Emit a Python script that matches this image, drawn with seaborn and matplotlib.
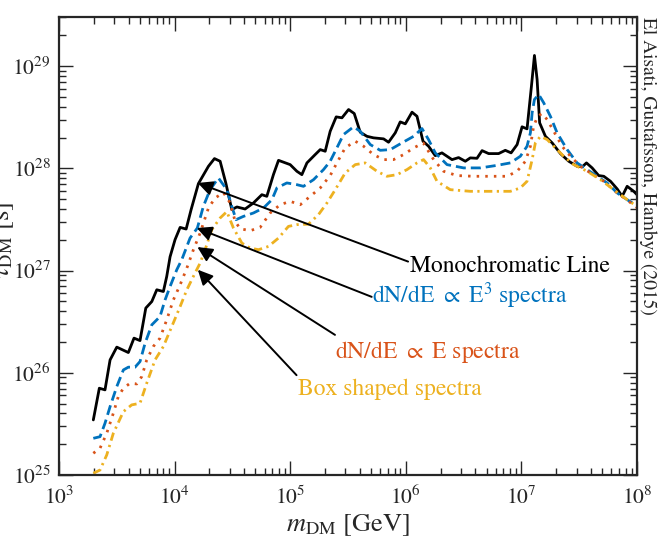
import numpy as np
import pandas as pd
import matplotlib
matplotlib.use("Agg")
import matplotlib.pyplot as plt
import seaborn as sns

# Lower bounds on the DM lifetime, stored as log10(m_DM / GeV) and log10(tau_DM / s)
mono_logm = [3.297, 3.349, 3.398, 3.442, 3.500, 3.600, 3.649, 3.701, 3.751, 3.803,
             3.846, 3.903, 3.932, 3.961, 4.004, 4.048, 4.100, 4.143, 4.206, 4.293,
             4.345, 4.394, 4.443, 4.495, 4.539, 4.610, 4.682, 4.755, 4.798, 4.855,
             4.899, 5.000, 5.058, 5.101, 5.145, 5.216, 5.260, 5.303, 5.346, 5.398,
             5.448, 5.505, 5.554, 5.606, 5.664, 5.721, 5.808, 5.851, 5.909, 5.952,
             5.996, 6.054, 6.097, 6.149, 6.197, 6.255, 6.313, 6.400, 6.457, 6.515,
             6.558, 6.616, 6.660, 6.717, 6.803, 6.861, 6.911, 6.963, 7.006, 7.049,
             7.087, 7.113, 7.136, 7.158, 7.208, 7.266, 7.338, 7.410, 7.482, 7.526,
             7.563, 7.612, 7.669, 7.713, 7.771, 7.829, 7.872, 7.915, 7.972, 8.000]
mono_logtau = [25.539, 25.849, 25.833, 26.126, 26.251, 26.198, 26.339, 26.315, 26.633, 26.697,
               26.812, 26.795, 26.942, 27.135, 27.302, 27.422, 27.406, 27.596, 27.850, 28.020,
               28.095, 28.069, 27.857, 27.596, 27.622, 27.602, 27.661, 27.742, 27.726, 27.938,
               28.078, 28.036, 27.971, 27.938, 28.053, 28.134, 28.183, 28.167, 28.362, 28.503,
               28.494, 28.575, 28.536, 28.353, 28.313, 28.298, 28.288, 28.255, 28.347, 28.454,
               28.435, 28.549, 28.509, 28.265, 28.216, 28.124, 28.151, 28.085, 28.105, 28.069,
               28.102, 28.098, 28.173, 28.144, 28.144, 28.176, 28.151, 28.232, 28.406, 28.386,
               28.803, 29.104, 28.869, 28.445, 28.313, 28.249, 28.144, 28.069, 28.020, 28.014,
               28.053, 28.004, 27.929, 27.922, 27.873, 27.798, 27.726, 27.824, 27.775, 27.742]

e3_logm = [3.297, 3.355, 3.398, 3.442, 3.500, 3.557, 3.600, 3.658, 3.701, 3.745,
           3.803, 3.874, 3.918, 3.961, 4.019, 4.062, 4.134, 4.197, 4.249, 4.307,
           4.379, 4.452, 4.495, 4.532, 4.596, 4.682, 4.769, 4.842, 4.885, 4.971,
           5.058, 5.115, 5.202, 5.288, 5.346, 5.404, 5.461, 5.548, 5.606, 5.693,
           5.779, 5.866, 5.967, 6.068, 6.140, 6.197, 6.255, 6.357, 6.500, 6.645,
           6.790, 6.905, 6.991, 7.049, 7.078, 7.093, 7.113, 7.150, 7.193, 7.251,
           7.309, 7.396, 7.482, 7.569, 7.655, 7.742, 7.829, 7.915, 8.000]
e3_logtau = [25.359, 25.375, 25.506, 25.669, 25.865, 26.028, 26.055, 26.055, 26.110, 26.290,
             26.469, 26.550, 26.714, 26.844, 27.008, 27.106, 27.318, 27.416, 27.628, 27.791,
             27.906, 27.791, 27.628, 27.498, 27.530, 27.563, 27.612, 27.693, 27.808, 27.857,
             27.840, 27.824, 27.889, 27.987, 28.069, 28.200, 28.330, 28.406, 28.362, 28.232,
             28.176, 28.183, 28.249, 28.313, 28.389, 28.281, 28.151, 28.036, 28.004, 28.004,
             28.029, 28.053, 28.118, 28.216, 28.347, 28.543, 28.673, 28.722, 28.641, 28.509,
             28.347, 28.183, 28.053, 27.987, 27.922, 27.857, 27.759, 27.693, 27.635]

e1_logm = [3.297, 3.355, 3.413, 3.470, 3.513, 3.557, 3.615, 3.673, 3.716, 3.759,
           3.816, 3.874, 3.932, 3.990, 4.048, 4.106, 4.163, 4.221, 4.293, 4.351,
           4.423, 4.481, 4.524, 4.567, 4.654, 4.740, 4.827, 4.913, 5.000, 5.087,
           5.173, 5.260, 5.346, 5.404, 5.476, 5.563, 5.635, 5.721, 5.808, 5.894,
           5.981, 6.068, 6.152, 6.241, 6.327, 6.443, 6.587, 6.760, 6.876, 6.963,
           7.035, 7.078, 7.106, 7.141, 7.179, 7.223, 7.280, 7.352, 7.424, 7.511,
           7.597, 7.713, 7.829, 7.929, 8.000]
e1_logtau = [25.213, 25.262, 25.408, 25.604, 25.767, 25.849, 25.898, 25.891, 25.963, 26.126,
             26.257, 26.339, 26.518, 26.714, 26.861, 27.024, 27.204, 27.367, 27.612, 27.710,
             27.762, 27.661, 27.481, 27.409, 27.390, 27.422, 27.563, 27.644, 27.677, 27.644,
             27.726, 27.808, 27.929, 28.053, 28.200, 28.265, 28.216, 28.134, 28.085, 28.085,
             28.134, 28.200, 28.247, 28.085, 27.971, 27.929, 27.922, 27.922, 27.922, 27.971,
             28.069, 28.216, 28.411, 28.509, 28.536, 28.477, 28.362, 28.216, 28.118, 28.020,
             27.955, 27.873, 27.759, 27.677, 27.615]

box_logm = [3.297, 3.355, 3.413, 3.470, 3.557, 3.629, 3.701, 3.759, 3.831, 3.903,
            3.976, 4.048, 4.106, 4.177, 4.221, 4.264, 4.322, 4.394, 4.452, 4.509,
            4.582, 4.654, 4.726, 4.812, 4.899, 4.985, 5.058, 5.158, 5.245, 5.318,
            5.390, 5.476, 5.563, 5.649, 5.751, 5.837, 5.924, 6.010, 6.097, 6.154,
            6.212, 6.270, 6.385, 6.558, 6.760, 6.905, 6.991, 7.049, 7.093, 7.121,
            7.165, 7.223, 7.280, 7.366, 7.453, 7.569, 7.684, 7.799, 7.915, 8.000]
box_logtau = [25.017, 25.049, 25.196, 25.408, 25.620, 25.686, 25.702, 25.898, 26.126, 26.257,
              26.453, 26.648, 26.812, 26.976, 27.073, 27.204, 27.400, 27.514, 27.576, 27.416,
              27.269, 27.220, 27.204, 27.236, 27.318, 27.432, 27.449, 27.454, 27.547, 27.661,
              27.791, 27.955, 28.036, 28.053, 27.971, 27.922, 27.938, 27.987, 28.053, 28.085,
              28.004, 27.873, 27.791, 27.775, 27.775, 27.775, 27.808, 27.873, 28.085, 28.249,
              28.313, 28.281, 28.216, 28.118, 28.036, 27.971, 27.889, 27.791, 27.693, 27.628]

labels = ["Monochromatic Line",
          r"dN/dE $\propto$ $\mathrm{E}^3$ spectra",
          r"dN/dE $\propto$ E spectra",
          "Box shaped spectra"]
colors = ["black", "#0072BD", "#D95319", "#EDB120"]
styles = ["-", (0, (3.6, 1.8)), (0, (0.9, 2.2)), (0, (3.0, 1.6, 0.8, 1.6))]
series = [(mono_logm, mono_logtau), (e3_logm, e3_logtau),
          (e1_logm, e1_logtau), (box_logm, box_logtau)]

# arrow tips on the curves (log10 m, log10 tau)
tip_logm = [4.200, 4.192, 4.197, 4.201]
tip_logtau = [27.857, 27.416, 27.230, 27.008]

sns.set_style("ticks")
plt.rcParams.update({
    "font.family": ["STIXGeneral", "DejaVu Serif"],
    "mathtext.fontset": "stix",
    "axes.linewidth": 1.6,
})

fig = plt.figure(figsize=(6.62, 5.45), dpi=100)
ax = fig.add_axes([0.0891, 0.1284, 0.8731, 0.8404])
ax.set_xscale("log")
ax.set_yscale("log")

for (lm, lt), col, ls in zip(series, colors, styles):
    df = pd.DataFrame({"m": 10 ** np.array(lm), "tau": 10 ** np.array(lt)})
    sns.lineplot(data=df, x="m", y="tau", ax=ax, color=col, linewidth=2.0,
                 linestyle=ls, estimator=None, sort=False)

ax.set_xlim(1e3, 1e8)
ax.set_ylim(1e25, 10 ** 29.48)

ax.tick_params(which="both", direction="in", top=True, right=True,
               labelsize=15.5)
ax.tick_params(axis="y", pad=6)
ax.tick_params(axis="x", pad=8)
ax.tick_params(which="major", length=10, width=1.0)
ax.tick_params(which="minor", length=5, width=1.0)
ax.xaxis.set_minor_formatter(matplotlib.ticker.NullFormatter())
ax.yaxis.set_minor_formatter(matplotlib.ticker.NullFormatter())

ax.set_xlabel(r"$m_{\rm DM}$ [GeV]", fontsize=19, labelpad=2)
ax.set_ylabel("")
fig.text(0.004, 0.56, r"$\tau_{\rm DM}$ [s]", rotation=90, ha="center",
         va="center", fontsize=19)
fig.text(0.979, 0.969, "El Aisati, Gustafsson, Hambye (2015)", rotation=270,
         ha="center", va="top", fontsize=14)

tails = [(0.604, 0.466), (0.541, 0.389), (0.4775, 0.306), (0.411, 0.218)]
text_pos = [(0.607, 0.443), (0.541, 0.375), (0.4775, 0.255), (0.414, 0.175)]
for lab, col, tm, tt, tail, tp in zip(labels, colors, tip_logm, tip_logtau,
                                      tails, text_pos):
    ax.annotate("", xy=(10 ** tm, 10 ** tt), xycoords="data",
                xytext=tail, textcoords="axes fraction",
                arrowprops=dict(arrowstyle="-|>,head_length=0.45,head_width=0.22",
                                color="black", lw=1.4, shrinkA=0, shrinkB=0,
                                mutation_scale=20))
    ax.text(tp[0], tp[1], lab, transform=ax.transAxes, color=col,
            fontsize=17, ha="left", va="baseline")

fig.savefig("out.png", dpi=100)
